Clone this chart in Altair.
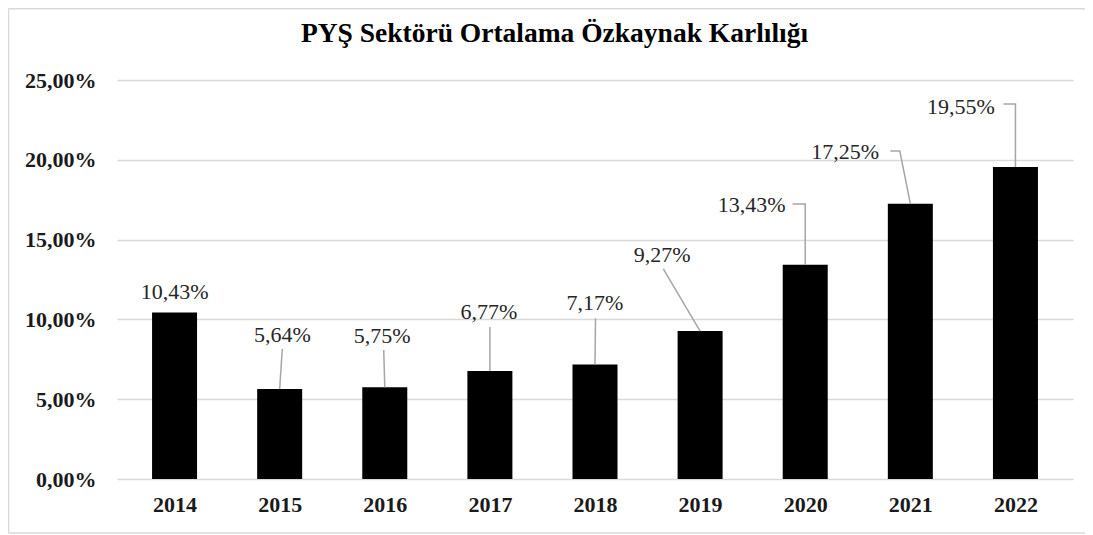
import altair as alt
import pandas as pd

# ---- data ----
title_text = "PYŞ Sektörü Ortalama Özkaynak Karlılığı"
years = ["2014", "2015", "2016", "2017", "2018", "2019", "2020", "2021", "2022"]
roe = [10.43, 5.64, 5.75, 6.77, 7.17, 9.27, 13.43, 17.25, 19.55]
y_ticks = [0, 5, 10, 15, 20, 25]

# data-label anchors (category index, % value) as placed in the reference
label_x = [0.0, 1.025, 1.976, 2.99, 4.0, 4.64, 5.49, 6.38, 7.48]
label_y = [11.72, 9.02, 8.96, 10.46, 11.01, 14.03, 17.17, 20.49, 23.31]

# leader lines (group = year, points in category index / % units)
leader_grp = ["2015", "2015", "2016", "2016", "2017", "2017", "2018", "2018",
              "2019", "2019", "2020", "2020", "2020", "2021", "2021", "2021",
              "2022", "2022", "2022"]
leader_seq = [0, 1, 0, 1, 0, 1, 0, 1, 0, 1, 0, 1, 2, 0, 1, 2, 0, 1, 2]
leader_x = [1.025, 1.0, 1.99, 2.0, 3.0, 3.0, 4.005, 4.0,
            4.65, 5.0, 5.88, 6.0, 6.0, 6.81, 6.90, 7.0,
            7.886, 8.0, 8.0]
leader_y = [8.15, 5.64, 8.08, 5.75, 9.52, 6.77, 10.07, 7.17,
            13.16, 9.27, 17.23, 17.23, 13.43, 20.55, 20.55, 17.25,
            23.5, 23.5, 19.55]

# ---- tables ----
bars_df = pd.DataFrame({"x": list(range(len(years))), "y": roe, "year": years})
labels_df = pd.DataFrame({
    "x": label_x, "y": label_y,
    "label": [f"{v:.2f}".replace(".", ",") + "%" for v in roe],
})
leaders_df = pd.DataFrame({"x": leader_x, "y": leader_y, "grp": leader_grp, "seq": leader_seq})

FONT = "Liberation Serif, Times New Roman, serif"
year_arr = "[" + ",".join(f"'{y}'" for y in years) + "]"

x_scale = alt.Scale(domain=[-0.5, len(years) - 0.5], nice=False, zero=False)
y_scale = alt.Scale(domain=[0, 25], nice=False)

x_enc = alt.X(
    "x:Q", scale=x_scale,
    axis=alt.Axis(
        values=list(range(len(years))),
        labelExpr=f"{year_arr}[datum.value]",
        grid=False, domain=False, ticks=False, title=None,
        labelFont=FONT, labelFontSize=22, labelFontWeight="bold",
        labelColor="#1a1a1a", labelPadding=15, labelFlush=False, labelOverlap=False,
    ),
)
y_enc = alt.Y(
    "y:Q", scale=y_scale,
    axis=alt.Axis(
        values=y_ticks,
        labelExpr="replace(format(datum.value, '.2f'), '.', ',') + '%'",
        grid=True, gridColor="#d9d9d9", gridWidth=1.5,
        domain=False, ticks=False, title=None,
        labelFont=FONT, labelFontSize=22, labelFontWeight="bold",
        labelColor="#1a1a1a", labelPadding=21,
    ),
)

bars = alt.Chart(bars_df).mark_bar(size=45, color="#000000").encode(x=x_enc, y=y_enc)

leaders = alt.Chart(leaders_df).mark_line(color="#a6a6a6", strokeWidth=1.5).encode(
    x=alt.X("x:Q", scale=x_scale),
    y=alt.Y("y:Q", scale=y_scale),
    detail="grp:N",
    order="seq:Q",
)

labels = alt.Chart(labels_df).mark_text(
    font=FONT, fontSize=22, color="#262626", baseline="middle", align="center"
).encode(
    x=alt.X("x:Q", scale=x_scale),
    y=alt.Y("y:Q", scale=y_scale),
    text="label:N",
)

# chart-area frame (left, top and bottom edges; right edge lies outside the window)
frame_style = dict(color="#d9d9d9", strokeWidth=1.5)
one = alt.Data(values=[{}])
frame_left = alt.Chart(one).mark_rule(**frame_style).encode(
    x=alt.value(-108.5), y=alt.value(-71.25), y2=alt.value(453))
frame_top = alt.Chart(one).mark_rule(**frame_style).encode(
    x=alt.value(-108.5), x2=alt.value(1000), y=alt.value(-71.25))
frame_bottom = alt.Chart(one).mark_rule(**frame_style).encode(
    x=alt.value(-108.5), x2=alt.value(1000), y=alt.value(453))

title = alt.Chart(alt.Data(values=[{"t": title_text}])).mark_text(
    font=FONT, fontSize=27.5, fontWeight="bold", color="#000000",
    align="center", baseline="alphabetic",
).encode(x=alt.value(437.5), y=alt.value(-38), text="t:N")

chart = alt.layer(frame_left, frame_top, frame_bottom, bars, leaders, labels, title).properties(
    width=956,
    height=399,
    padding={"left": 109, "top": 72, "right": 12, "bottom": 55},
    autosize=alt.AutoSizeParams(type="none"),
).configure_view(stroke=None)

chart.save("out.html", embed_options={"renderer": "svg", "actions": False})
